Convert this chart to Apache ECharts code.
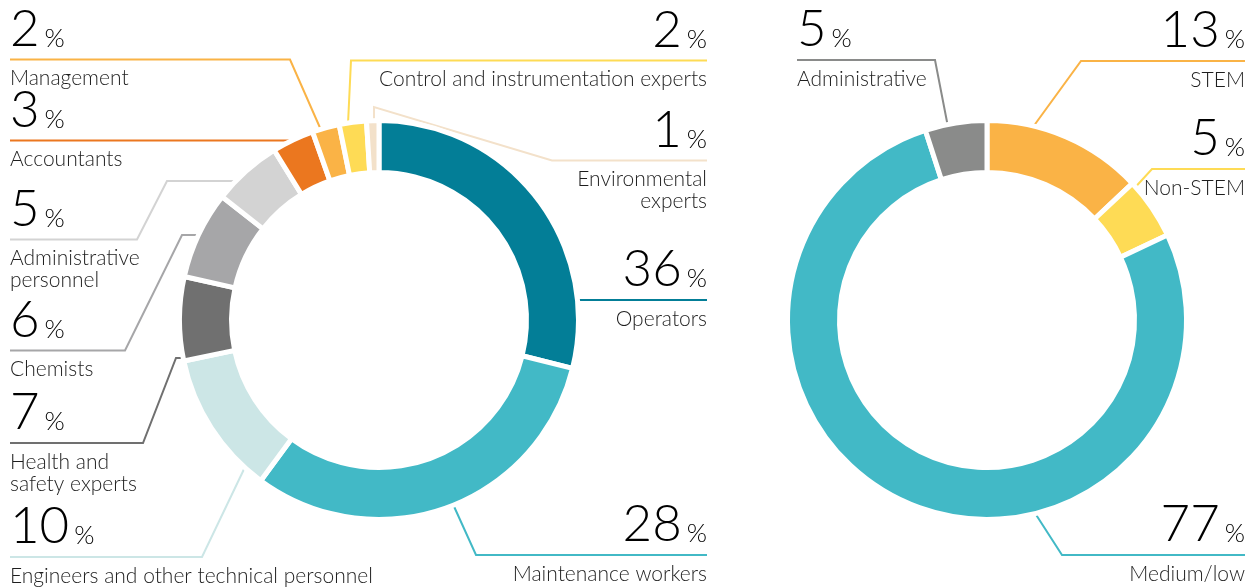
<!DOCTYPE html>
<html><head><meta charset="utf-8">
<script src="https://cdn.jsdelivr.net/npm/echarts@6/dist/echarts.min.js"></script>
<style>html,body{margin:0;padding:0;background:#fff}#c{width:1255px;height:588px}</style>
</head><body><div id="c"></div>
<script>
// ---- data ----
// Left ring: categories in clockwise order from 12 o'clock
const leftCategories = ['Operators', 'Maintenance workers', 'Engineers and other technical personnel',
  'Health and\nsafety experts', 'Chemists', 'Administrative\npersonnel', 'Accountants', 'Management',
  'Control and instrumentation experts', 'Environmental\nexperts'];
// printed percentages
const leftPercent = [36, 28, 10, 7, 6, 5, 3, 2, 2, 1];
const leftArcShare = [28.9, 31.2, 11.6, 6.8, 7.1, 5.6, 3.4, 2.2, 2.2, 1.0];
const leftColors = ['#037E97', '#42B9C6', '#CCE6E6', '#707070', '#A6A6A8', '#D3D3D3', '#EB771F', '#FAB346', '#FEDB55', '#F3E1CA'];

// Right ring
const rightCategories = ['STEM', 'Non-STEM', 'Medium/low', 'Administrative'];
const rightPercent = [13, 5, 77, 5];
const rightColors = ['#FAB346', '#FEDB55', '#42B9C6', '#8A8B8A'];

// ---- label / leader layout (positions only) ----
const leftLabelLayout = [
  {x: 707, align: 'right', lineY: 300, pts: [[577, 300], [707, 300]]},
  {x: 707, align: 'right', lineY: 555, pts: [[452, 502], [476, 555], [707, 555]]},
  {x: 10, align: 'left', lineY: 557, pts: [[246, 465], [202, 557], [10, 557]]},
  {x: 10, align: 'left', lineY: 443, pts: [[187, 358], [176, 358], [143, 443], [10, 443]]},
  {x: 10, align: 'left', lineY: 350.5, pts: [[200, 235], [182, 235], [125, 350.5], [10, 350.5]]},
  {x: 10, align: 'left', lineY: 239.5, pts: [[235, 181], [167, 181], [137, 239.5], [10, 239.5]]},
  {x: 10, align: 'left', lineY: 140.5, pts: [[293, 144], [289, 140.5], [10, 140.5]]},
  {x: 10, align: 'left', lineY: 59.5, pts: [[321, 130], [290, 59.5], [10, 59.5]]},
  {x: 707, align: 'right', lineY: 60.5, pts: [[348, 124], [351, 60.5], [707, 60.5]]},
  {x: 707, align: 'right', lineY: 160.5, pts: [[374, 123], [374, 107], [552, 160.5], [707, 160.5]]}
];
const rightLabelLayout = [
  {x: 1245, align: 'right', lineY: 61, pts: [[1033, 127], [1081, 61], [1245, 61]]},
  {x: 1245, align: 'right', lineY: 169, pts: [[1130, 193], [1152, 169], [1245, 169]]},
  {x: 1245, align: 'right', lineY: 555, pts: [[1033, 510], [1062, 555], [1245, 555]]},
  {x: 797, align: 'left', lineY: 60, pts: [[948, 127], [935, 60], [797, 60]]}
];

const FONT = 'Lato';
const rich = {
  n: {fontFamily: FONT, fontWeight: 300, fontSize: 51, lineHeight: 76, color: '#000'},
  p: {fontFamily: FONT, fontWeight: 300, fontSize: 26, color: '#000', padding: [18, 0, 0, 5]},
  t: {fontFamily: FONT, fontWeight: 300, fontSize: 21, lineHeight: 22, color: '#1e1e1e'}
};

function labelFormatter(percents) {
  return function (p) {
    const lines = p.name.split('\n').map(s => '{t|' + s + '}').join('\n');
    return '{n|' + percents[p.dataIndex] + '}{p|%}\n' + lines;
  };
}
function labelLayoutFn(cfg) {
  return function (p) {
    const c = cfg[p.dataIndex];
    return {x: c.x, y: c.lineY - 68, align: c.align, verticalAlign: 'top', labelLinePoints: c.pts, hideOverlap: false};
  };
}

function ringSeries(center, names, values, colors, percents, layoutCfg) {
  return {
    type: 'pie',
    center: center,
    radius: [147.5, 199.5],
    startAngle: 90,
    clockwise: true,
    avoidLabelOverlap: false,
    silent: true,
    animation: false,
    emphasis: {disabled: true},
    itemStyle: {borderColor: '#fff', borderWidth: 5},
    label: {show: true, position: 'outside', formatter: labelFormatter(percents), rich: rich},
    labelLine: {show: true, lineStyle: {width: 2}},
    labelLayout: labelLayoutFn(layoutCfg),
    data: names.map((n, i) => ({name: n, value: values[i], itemStyle: {color: colors[i]}}))
  };
}

const chart = echarts.init(document.getElementById('c'), null, {renderer: 'canvas'});
chart.setOption({
  backgroundColor: '#fff',
  animation: false,
  series: [
    ringSeries([379, 320], leftCategories, leftArcShare, leftColors, leftPercent, leftLabelLayout),
    ringSeries([987, 320], rightCategories, rightPercent, rightColors, rightPercent, rightLabelLayout)
  ]
});
</script></body></html>
